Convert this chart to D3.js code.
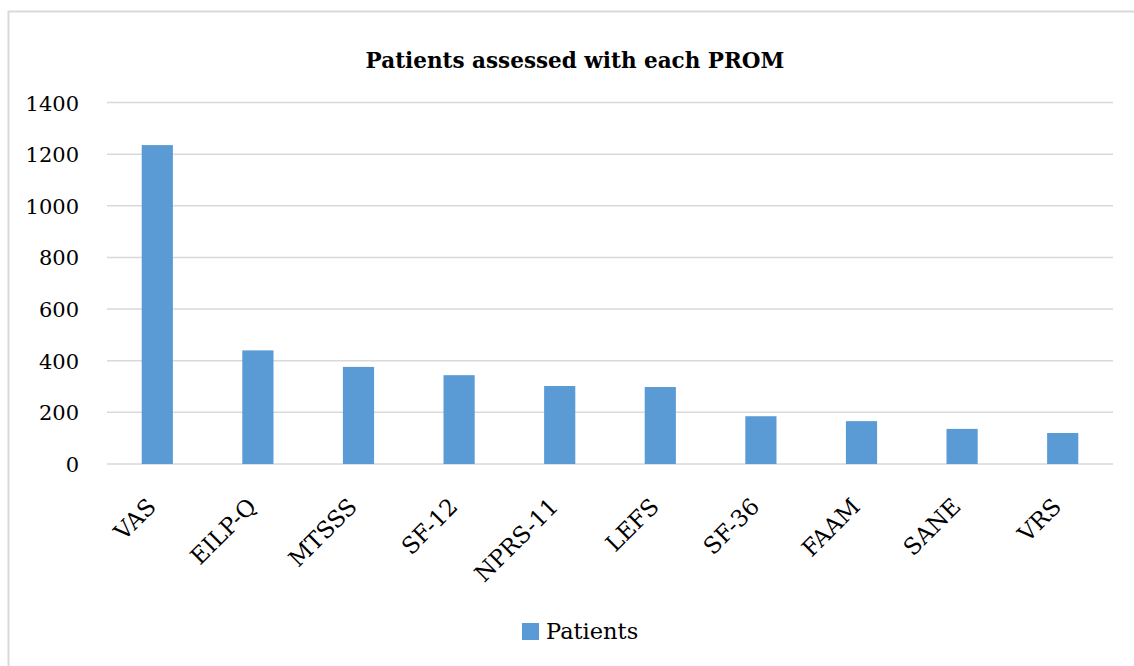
<!DOCTYPE html>
<html>
<head>
<meta charset="utf-8">
<script src="https://cdn.jsdelivr.net/npm/d3@7"></script>
<style>
	body { margin: 0; background: #fff; }
	svg text { font-family: "Palatino Linotype", "Book Antiqua", Palatino, "DejaVu Serif", serif; fill: #000; }
</style>
</head>
<body>
<div id="chart"></div>
<script>
// DATA
var categories = ["VAS", "EILP-Q", "MTSSS", "SF-12", "NPRS-11", "LEFS", "SF-36", "FAAM", "SANE", "VRS"];
var patients = [1235, 440, 376, 344, 302, 298, 185, 166, 136, 120];
var yTicks = [0, 200, 400, 600, 800, 1000, 1200, 1400];
var seriesName = "Patients";
var chartTitle = "Patients assessed with each PROM";

var data = categories.map(function (c, i) {
	return { name: c, value: patients[i] };
});

var FONT = '"Palatino Linotype", "Book Antiqua", Palatino, "DejaVu Serif", serif';

// DIMENSIONS
var W = 1134, H = 666;
var margin = { top: 102.5, right: 21, bottom: 202, left: 107 },
	width = W - margin.left - margin.right,
	height = H - margin.top - margin.bottom;

var root = d3.select("#chart")
	.append("svg")
	.attr("width", W)
	.attr("height", H);

// OUTER BORDER
root.append("rect")
	.attr("x", 8.5)
	.attr("y", 11.5)
	.attr("width", W)
	.attr("height", H)
	.attr("fill", "none")
	.attr("stroke", "#d9d9d9")
	.attr("stroke-width", 2);

// TITLE
root.append("text")
	.attr("x", 575)
	.attr("y", 68)
	.attr("text-anchor", "middle")
	.attr("font-family", FONT)
	.attr("font-size", 21.5)
	.attr("font-weight", "bold")
	.text(chartTitle);

var svg = root.append("g")
	.attr("transform", "translate(" + margin.left + "," + margin.top + ")");

// SCALES
var x = d3.scaleBand()
	.domain(categories)
	.range([0, width])
	.paddingInner(0.69)
	.paddingOuter(0.345);

var y = d3.scaleLinear()
	.domain([0, 1400])
	.range([height, 0]);

// GRIDLINES
svg.append("g")
	.selectAll("line")
	.data(yTicks)
	.join("line")
	.attr("x1", 0)
	.attr("x2", width)
	.attr("y1", function (d) { return y(d); })
	.attr("y2", function (d) { return y(d); })
	.attr("stroke", "#d9d9d9")
	.attr("stroke-width", 1.5);

// Y AXIS
var yAxis = svg.append("g")
	.attr("transform", "translate(-28,0)")
	.attr("font-family", FONT)
	.call(d3.axisLeft(y).tickValues(yTicks).tickFormat(d3.format("d")).tickSize(0).tickPadding(0));
yAxis.select(".domain").remove();
yAxis.selectAll("text")
	.attr("font-family", FONT)
	.attr("font-size", 21)
	.attr("dy", "0.36em");

// BARS
svg.selectAll(".bar")
	.data(data)
	.join("rect")
	.attr("class", "bar")
	.attr("x", function (d) { return x(d.name); })
	.attr("y", function (d) { return y(d.value); })
	.attr("width", x.bandwidth())
	.attr("height", function (d) { return height - y(d.value); })
	.attr("fill", "#5b9bd5");

// X AXIS
var xAxis = svg.append("g")
	.attr("transform", "translate(0," + height + ")")
	.attr("font-family", FONT)
	.call(d3.axisBottom(x).tickSize(0).tickPadding(0));
xAxis.select(".domain").remove();
xAxis.selectAll("text")
	.attr("font-family", FONT)
	.attr("font-size", 23)
	.attr("text-anchor", "end")
	.attr("y", 0)
	.attr("dy", null)
	.attr("transform", "translate(0,44) rotate(-45)");

// LEGEND
var legend = root.append("g").attr("transform", "translate(522,623)");
legend.append("rect")
	.attr("width", 17)
	.attr("height", 17)
	.attr("fill", "#5b9bd5");
legend.append("text")
	.attr("x", 24)
	.attr("y", 16)
	.attr("font-family", FONT)
	.attr("font-size", 22.5)
	.text(seriesName);
</script>
</body>
</html>
